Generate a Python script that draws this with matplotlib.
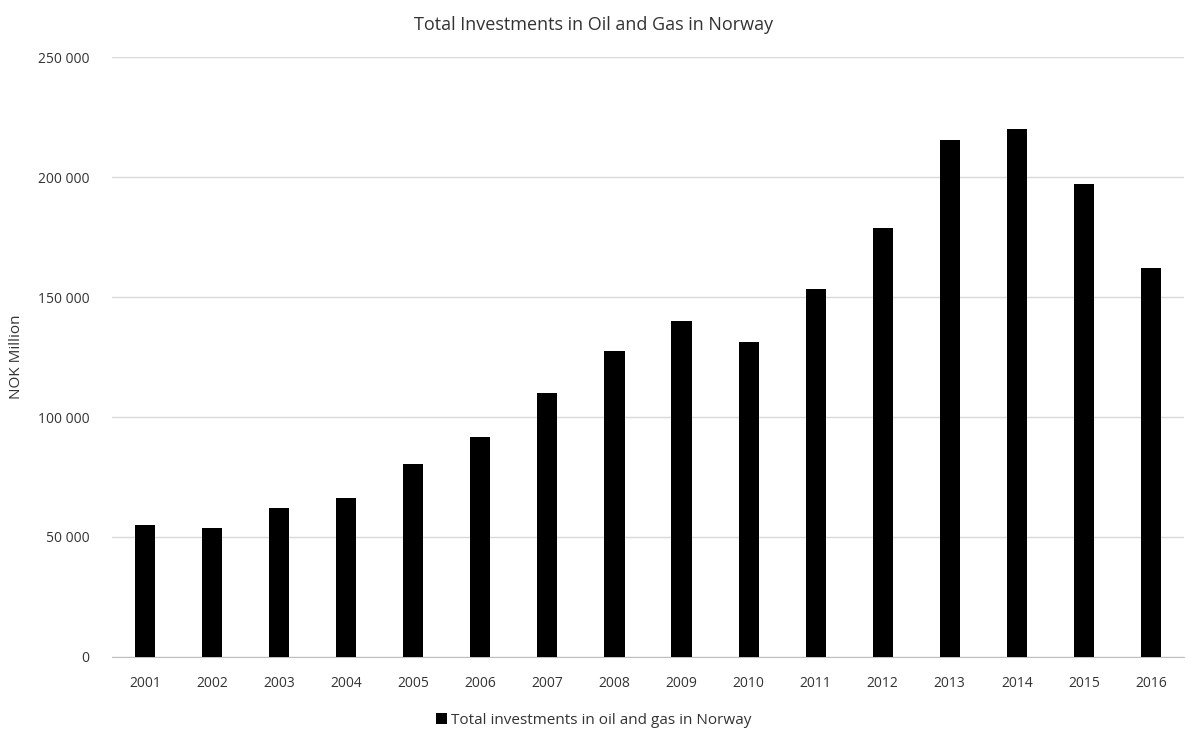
import matplotlib
matplotlib.use("Agg")
import matplotlib.pyplot as plt
from matplotlib.ticker import FuncFormatter

years = [str(y) for y in range(2001, 2017)]
investments = [54800, 53900, 62200, 66300, 80600, 91800, 110200, 127600,
               140100, 131100, 153200, 178900, 215500, 219900, 196900, 161900]
y_ticks = [0, 50000, 100000, 150000, 200000, 250000]

plt.rcParams["font.family"] = ["Open Sans", "DejaVu Sans"]

fig = plt.figure(figsize=(11.88, 7.33), dpi=100)
ax = fig.add_axes([0.0939, 0.1037, 0.9031, 0.8185])

x = range(len(years))
ax.bar(x, investments, width=0.3, color="black", zorder=3,
       label="Total investments in oil and gas in Norway")

ax.set_xlim(-0.5, len(years) - 0.5)
ax.set_ylim(0, 250000)
ax.set_yticks(y_ticks)
ax.yaxis.set_major_formatter(FuncFormatter(lambda v, p: f"{int(v):,}".replace(",", " ")))
ax.set_xticks(list(x))
ax.set_xticklabels(years)

ax.grid(axis="y", color="#d9d9d9", linewidth=1, zorder=0)
for side in ["top", "right", "left"]:
    ax.spines[side].set_visible(False)
ax.spines["bottom"].set_color("#bfbfbf")
ax.tick_params(axis="both", length=0, labelsize=10, colors="#333333")
ax.tick_params(axis="x", pad=14)
ax.tick_params(axis="y", pad=16)

ax.set_ylabel("NOK Million", fontsize=11, color="#333333")
ax.yaxis.set_label_coords(-0.082, 0.5)
fig.suptitle("Total Investments in Oil and Gas in Norway", fontsize=13,
             color="#333333", y=0.978)

fig.legend(loc="lower center", bbox_to_anchor=(0.5, -0.012), ncol=1,
           frameon=False, fontsize=11, handlelength=0.7, handleheight=0.7,
           handletextpad=0.3, labelcolor="#333333")

fig.savefig("out.png", dpi=100)
